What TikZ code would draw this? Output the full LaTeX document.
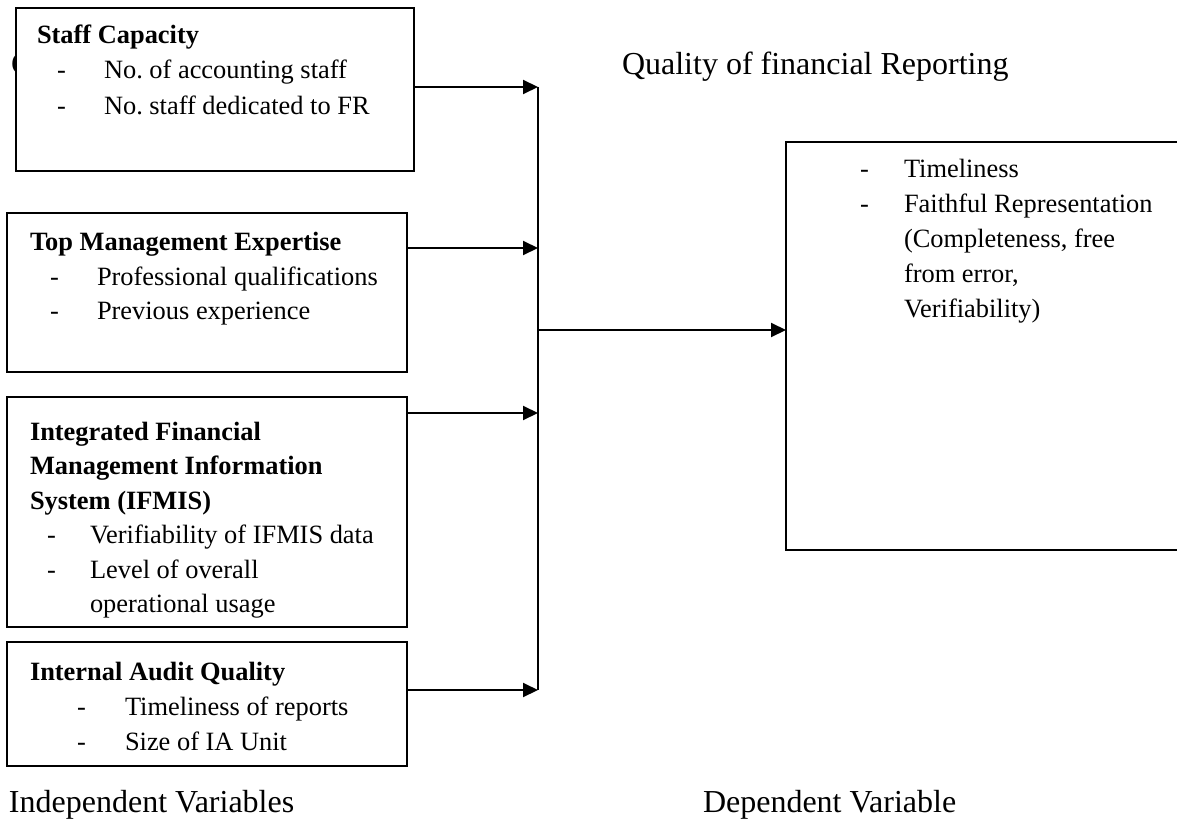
\documentclass[tikz,border=0pt]{standalone}
\usepackage{fontspec}
\setmainfont{Liberation Serif}
\usetikzlibrary{arrows.meta}
\tikzset{
  box/.style={draw, line width=1pt, fill=white, inner sep=0pt, outer sep=0pt, anchor=north west},
  txt/.style={anchor=base west, inner sep=0pt, outer sep=0pt, font=\fontsize{13.2pt}{17.5pt}\selectfont},
  ttl/.style={txt, font=\fontsize{13.2pt}{17.5pt}\selectfont\bfseries},
  big/.style={anchor=base west, inner sep=0pt, outer sep=0pt, font=\fontsize{16pt}{19pt}\selectfont},
  arr/.style={line width=1pt, -{Triangle[length=7.5pt,width=7pt]}},
  bus/.style={line width=1pt}
}
\begin{document}
\begin{tikzpicture}[x=0.5pt,y=-0.5pt]
\useasboundingbox (0,0) rectangle (1177,824);
\clip (0,0) rectangle (1177,824);
% hidden heading letter, covered by the first box
\node[big] (hid) at (11,75) {C};
% boxes
\node[box, minimum width=199pt, minimum height=81.5pt] (staff) at (16,8) {};
\node[box, minimum width=200pt, minimum height=79.5pt] (topm) at (7,213) {};
\node[box, minimum width=200pt, minimum height=115pt] (ifmis) at (7,397) {};
\node[box, minimum width=200pt, minimum height=62pt] (ia) at (7,642) {};
\node[box, minimum width=210pt, minimum height=204pt] (dep) at (786,142) {};
% staff text
\node[ttl] (s0) at (37,44) {Staff Capacity};
\node[txt] (s1d) at (57,79) {-};
\node[txt] (s1) at (104,79) {No.\ of accounting staff};
\node[txt] (s2d) at (57,115) {-};
\node[txt] (s2) at (104,115) {No.\ staff dedicated to FR};
% top management text
\node[ttl] (t0) at (30,250) {Top Management Expertise};
\node[txt] (t1d) at (50,285) {-};
\node[txt] (t1) at (97,285) {Professional qualifications};
\node[txt] (t2d) at (50,319) {-};
\node[txt] (t2) at (97,319) {Previous experience};
% IFMIS text
\node[ttl] (i0) at (30,440) {Integrated Financial};
\node[ttl] (i1) at (30,474.5) {Management Information};
\node[ttl] (i2) at (30,509) {System (IFMIS)};
\node[txt] (i3d) at (47,543.5) {-};
\node[txt] (i3) at (90,543.5) {Verifiability of IFMIS data};
\node[txt] (i4d) at (47,578) {-};
\node[txt] (i4) at (90,578) {Level of overall};
\node[txt] (i5) at (90,612.5) {operational usage};
% IA text
\node[ttl] (a0) at (30,680) {Internal Audit Quality};
\node[txt] (a1d) at (77,715) {-};
\node[txt] (a1) at (125,715) {Timeliness of reports};
\node[txt] (a2d) at (77,750) {-};
\node[txt] (a2) at (125,750) {Size of IA Unit};
% dependent text
\node[txt] (d1d) at (860,177) {-};
\node[txt] (d1) at (904,177) {Timeliness};
\node[txt] (d2d) at (860,212) {-};
\node[txt] (d2) at (904,212) {Faithful Representation};
\node[txt] (d3) at (904,247) {(Completeness, free};
\node[txt] (d4) at (904,282) {from error,};
\node[txt] (d5) at (904,317) {Verifiability)};
% labels
\node[big] (qfr) at (622,75) {Quality of financial Reporting};
\node[big] (indep) at (9,812) {Independent Variables};
\node[big] (depl) at (703,812) {Dependent Variable};
% connectors
\coordinate (j1) at (538,87);
\coordinate (j2) at (538,248);
\coordinate (j3) at (538,413);
\coordinate (j4) at (538,690);
\coordinate (jm) at (538,330);
\draw[arr] (staff.east |- j1) -- (j1);
\draw[arr] (topm.east |- j2) -- (j2);
\draw[arr] (ifmis.east |- j3) -- (j3);
\draw[arr] (ia.east |- j4) -- (j4);
\draw[bus] (j1) -- (j4);
\draw[arr] (jm) -- (dep.west |- jm);
\end{tikzpicture}
\end{document}
